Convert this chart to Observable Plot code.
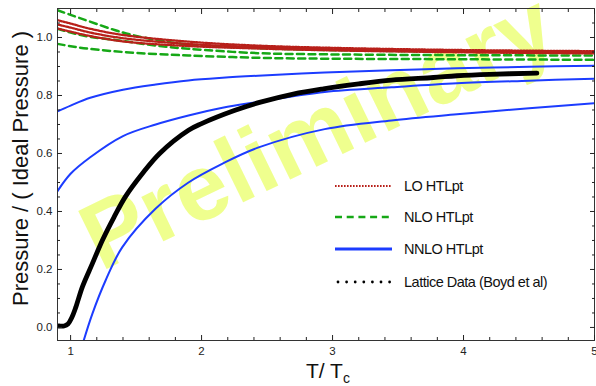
<!DOCTYPE html>
<html><head><meta charset="utf-8">
<script src="https://cdn.jsdelivr.net/npm/d3@7"></script>
<script src="https://cdn.jsdelivr.net/npm/@observablehq/plot@0.6"></script>
<style>
html,body{margin:0;padding:0;background:#fff;}
#chart{width:596px;height:386px;overflow:hidden;}
</style></head><body><div id="chart"></div>
<script>
// ---- data ----
const T_LO = [0.9, 1.0, 1.15, 1.41, 1.92, 2.43, 2.94, 3.95, 5.0];
const LO_upper = [1.060, 1.048, 1.030, 1.008, 0.985, 0.972, 0.965, 0.957, 0.953];
const LO_mid   = [1.045, 1.034, 1.017, 0.997, 0.977, 0.967, 0.960, 0.953, 0.949];
const LO_lower = [1.031, 1.020, 1.005, 0.986, 0.970, 0.962, 0.956, 0.949, 0.945];

const T_NLO = [0.9, 1.0, 1.14, 1.4, 1.65, 1.9, 2.43, 2.94, 3.95, 5.0];
const NLO_upper = [1.094, 1.078, 1.056, 1.017, 0.992, 0.976, 0.963, 0.957, 0.951, 0.948];
const NLO_mid   = [1.030, 1.017, 1.003, 0.988, 0.972, 0.961, 0.946, 0.942, 0.939, 0.938];
const NLO_lower = [0.978, 0.970, 0.961, 0.950, 0.943, 0.938, 0.930, 0.927, 0.925, 0.923];

const T_NNLO = [0.9, 1.0, 1.15, 1.4, 1.65, 1.9, 2.16, 2.43, 2.94, 3.45, 3.95, 4.5, 5.0];
const NNLO_upper = [0.745, 0.765, 0.792, 0.820, 0.838, 0.852, 0.861, 0.868, 0.879, 0.887, 0.894, 0.899, 0.903];
const NNLO_mid   = [0.470, 0.530, 0.587, 0.660, 0.700, 0.731, 0.758, 0.778, 0.812, 0.828, 0.842, 0.851, 0.858];
const T_NNLO_low = [1.09, 1.166, 1.267, 1.395, 1.65, 1.9, 2.16, 2.43, 2.94, 3.45, 3.95, 4.5, 5.0];
const NNLO_lower = [-0.06, 0.047, 0.162, 0.277, 0.41, 0.50, 0.565, 0.62, 0.684, 0.714, 0.735, 0.756, 0.773];

const T_lat = [0.91, 0.95, 0.98, 1.01, 1.04, 1.09, 1.166, 1.242, 1.331, 1.42, 1.547, 1.68, 1.9, 2.0, 2.25, 2.45, 2.7, 2.93, 3.2, 3.45, 3.77, 3.95, 4.2, 4.56];
const P_lat = [0.005, 0.005, 0.012, 0.035, 0.07, 0.14, 0.22, 0.30, 0.38, 0.452, 0.53, 0.60, 0.68, 0.703, 0.748, 0.777, 0.805, 0.823, 0.84, 0.853, 0.862, 0.868, 0.873, 0.877];

const xMajor = [1, 2, 3, 4, 5];
const xMinor = [1.2, 1.4, 1.6, 1.8, 2.2, 2.4, 2.6, 2.8, 3.2, 3.4, 3.6, 3.8, 4.2, 4.4, 4.6, 4.8];
const yMajor = [0, 0.2, 0.4, 0.6, 0.8, 1.0];
const yMinor = [0.05, 0.1, 0.15, 0.25, 0.3, 0.35, 0.45, 0.5, 0.55, 0.65, 0.7, 0.75, 0.85, 0.9, 0.95, 1.05];
const yTickLabels = ["0.0", "0.2", "0.4", "0.6", "0.8", "1.0"];

const legendLabels = ["LO HTLpt", "NLO HTLpt", "NNLO HTLpt", "Lattice Data (Boyd et al)"];
const watermark = "Preliminary";
const xTitle = "T/ T";
const xTitleSub = "c";
const yTitle = "Pressure / ( Ideal Pressure )";

// ---- colours ----
const RED = "#b8201a", GREEN = "#16a816", BLUE = "#1c3cff";
const FONT = "'Liberation Sans', Arial, sans-serif";

function rows(T, series) {
  const out = [];
  series.forEach((vals, k) => T.forEach((t, i) => out.push({T: t, P: vals[i], k})));
  return out;
}
const LO = rows(T_LO, [LO_upper, LO_mid, LO_lower]);
const NLO = rows(T_NLO, [NLO_upper, NLO_mid, NLO_lower]);
const NNLO = rows(T_NNLO, [NNLO_upper, NNLO_mid]).concat(rows(T_NNLO_low, [NNLO_lower]).map(d => ({...d, k: 9})));
const LAT = T_lat.map((t, i) => ({T: t, P: P_lat[i]}));

const blank = () => "";
const CURVE = "catmull-rom";
const plot = Plot.plot({
  width: 596, height: 386,
  marginLeft: 57, marginRight: 2, marginTop: 8, marginBottom: 46,
  style: {fontFamily: FONT, fontSize: "11.5px", background: "#fff", color: "#222"},
  x: {domain: [0.9, 5], label: null},
  y: {domain: [-0.045, 1.1], label: null},
  marks: [
    Plot.text([watermark], {frameAnchor: "middle", dx: -8, dy: -42, rotate: -26, fontSize: 94, fontWeight: "bold", fill: "#efff8e", fontFamily: FONT}),
    Plot.line(NNLO, {x: "T", y: "P", z: "k", stroke: BLUE, strokeWidth: 2, curve: CURVE, clip: true}),
    Plot.line(NLO, {x: "T", y: "P", z: "k", stroke: GREEN, strokeWidth: 2.5, strokeDasharray: "7,4.5", curve: CURVE, clip: true}),
    Plot.line(LO, {x: "T", y: "P", z: "k", stroke: RED, strokeWidth: 2.3, strokeDasharray: "1.6,1.4", curve: CURVE, clip: true}),
    Plot.line(LAT, {x: "T", y: "P", stroke: "#000", strokeWidth: 4.8, strokeLinecap: "round", curve: CURVE, clip: true}),
    Plot.frame({stroke: "#333"}),
    Plot.axisX({ticks: xMajor, tickSize: -5, tickPadding: 11, tickFormat: d => String(d), label: null}),
    Plot.axisX({ticks: xMinor, tickSize: -3, tickFormat: blank, label: null}),
    Plot.axisX({anchor: "top", ticks: xMajor, tickSize: -5, tickFormat: blank, label: null}),
    Plot.axisX({anchor: "top", ticks: xMinor, tickSize: -3, tickFormat: blank, label: null}),
    Plot.axisY({ticks: yMajor, tickSize: -5, tickPadding: 10, tickFormat: (d, i) => yTickLabels[i], label: null}),
    Plot.axisY({ticks: yMinor, tickSize: -3, tickFormat: blank, label: null}),
    Plot.axisY({anchor: "right", ticks: yMajor, tickSize: -5, tickFormat: blank, label: null}),
    Plot.axisY({anchor: "right", ticks: yMinor, tickSize: -3, tickFormat: blank, label: null})
  ]
});
document.getElementById("chart").appendChild(plot);

// ---- legend & titles (overlay) ----
const svg = d3.select(plot);
const lg = svg.append("g");
const rowsY = [186, 217, 249, 282];
lg.append("line").attr("x1", 335).attr("x2", 392).attr("y1", rowsY[0]).attr("y2", rowsY[0])
  .attr("stroke", RED).attr("stroke-width", 2.2).attr("stroke-dasharray", "1.6,1.4");
lg.append("line").attr("x1", 335).attr("x2", 392).attr("y1", rowsY[1]).attr("y2", rowsY[1])
  .attr("stroke", GREEN).attr("stroke-width", 2.5).attr("stroke-dasharray", "7,4.7");
lg.append("line").attr("x1", 335).attr("x2", 392).attr("y1", rowsY[2]).attr("y2", rowsY[2])
  .attr("stroke", BLUE).attr("stroke-width", 3);
for (let i = 0; i < 7; i++) lg.append("circle").attr("cx", 338 + i * 8.6).attr("cy", rowsY[3]).attr("r", 1.4).attr("fill", "#000");
legendLabels.forEach((t, i) => {
  lg.append("text").attr("x", 404).attr("y", rowsY[i] + 5).attr("text-anchor", "start").text(t)
    .attr("font-family", FONT).attr("font-size", 14.5)
    .attr("letter-spacing", -0.5).attr("fill", "#111");
});
const xt = svg.append("text").attr("x", 306).attr("y", 378).attr("text-anchor", "start")
  .attr("font-family", FONT).attr("font-size", 21).attr("fill", "#111");
xt.append("tspan").text(xTitle);
xt.append("tspan").attr("dy", 5).attr("font-size", 14).text(xTitleSub);
svg.append("text").attr("transform", "translate(28,168.5) rotate(-90)").attr("text-anchor", "middle")
  .attr("font-family", FONT).attr("font-size", 22).attr("fill", "#111").text(yTitle);
</script></body></html>
